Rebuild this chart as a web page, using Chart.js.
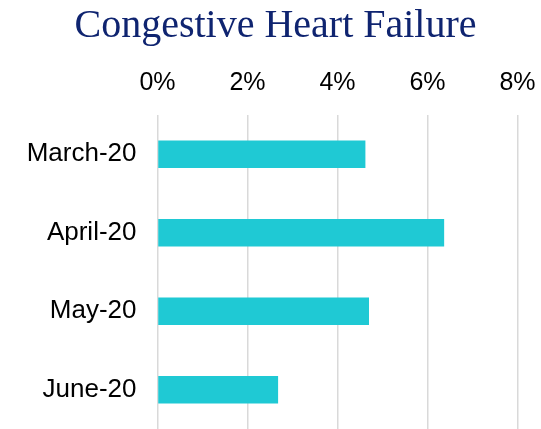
<!DOCTYPE html>
<html><head><meta charset="utf-8">
<script src="https://cdn.jsdelivr.net/npm/chart.js@4/dist/chart.umd.min.js"></script>
<style>html,body{margin:0;padding:0;background:#fff;overflow:hidden}canvas{display:block}</style>
</head><body><canvas id="c" width="541" height="429"></canvas>
<script>
const categories = ["March-20", "April-20", "May-20", "June-20"];
const values = [4.62, 6.37, 4.70, 2.68];
const xTicks = [0, 2, 4, 6, 8];
const titleText = "Congestive Heart Failure";

new Chart(document.getElementById('c'), {
  type: 'bar',
  data: {
    labels: categories,
    datasets: [{
      data: values,
      backgroundColor: '#1FC9D4',
      borderWidth: 0,
      barPercentage: 0.5,
      categoryPercentage: 0.7
    }]
  },
  options: {
    indexAxis: 'y',
    responsive: false,
    maintainAspectRatio: false,
    animation: false,
    layout: { padding: { top: 0, right: 0, left: 10, bottom: 0 } },
    plugins: {
      legend: { display: false },
      tooltip: { enabled: false },
      title: {
        display: true,
        text: titleText,
        color: '#0F2470',
        font: { family: 'Liberation Serif', size: 40, weight: 'normal' },
        padding: { top: 2, bottom: 0 }
      }
    },
    scales: {
      x: {
        position: 'top',
        min: xTicks[0],
        max: xTicks[xTicks.length - 1],
        afterBuildTicks: (a) => { a.ticks = xTicks.map(v => ({ value: v })); },
        afterFit: (a) => { a.height = 115 - 50; a.paddingLeft = 0; a.paddingRight = 23.5; },
        grid: { color: '#D9D9D9', lineWidth: 1.5, drawTicks: false },
        border: { display: false },
        ticks: {
          color: '#000',
          padding: 17,
          font: { family: 'Liberation Sans', size: 25 },
          callback: (v) => v + '%'
        }
      },
      y: {
        afterFit: (a) => { a.width = 147.5; a.paddingTop = 0; a.paddingBottom = 0; },
        grid: { display: false, drawTicks: false },
        border: { display: false },
        ticks: {
          color: '#000',
          padding: 21,
          font: { family: 'Liberation Sans', size: 26 }
        }
      }
    }
  }
});
</script></body></html>
